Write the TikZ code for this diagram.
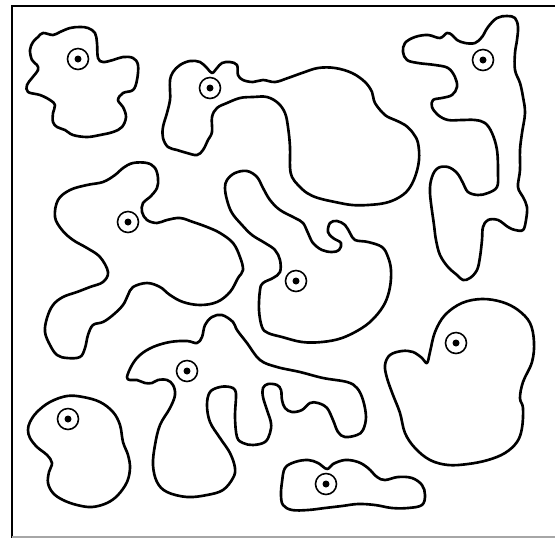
\documentclass[tikz,border=0pt]{standalone}
\usepackage{tikz}

\tikzset{
    blob/.style={line width=1.5pt, line join=round},
    eyering/.style={line width=0.9pt},
    frameline/.style={line width=1.3pt}
}

\begin{document}
\begin{tikzpicture}[x=0.02cm, y=-0.02cm]
    \useasboundingbox (0,0) rectangle (555,538);
    % frame
    \draw[frameline] (555,6) -- (12,6) -- (12,538);
    \draw[line width=0.6pt, black!35] (12,537) -- (555,537);
    % top left
    \draw[blob] plot[smooth cycle, tension=0.6] coordinates {
        (43,33) (53,35) (60,32) (70,28) (80,27) (88,28) (95,33) (97,43)
        (98,58) (103,62) (113,60) (123,57) (133,58) (138,65) (137,80)
        (133,90) (123,93) (118,100) (123,107) (126,117) (122,127)
        (113,132) (100,135) (87,137) (73,135) (65,130) (57,127) (53,122)
        (53,113) (55,105) (50,100) (40,95) (28,92) (27,85) (32,78)
        (38,70) (37,65) (32,60) (30,50) (33,42) (38,37)};
    % top middle
    \draw[blob] plot[smooth cycle, tension=0.6] coordinates {
        (170,80) (173,72) (180,65) (190,61) (200,62) (207,68) (212,73)
        (217,68) (222,63) (230,62) (237,65) (238,75) (243,80) (253,82)
        (263,80) (275,82) (288,78) (302,73) (318,68) (335,68) (352,73)
        (365,82) (372,92) (375,103) (385,115) (395,120) (405,125)
        (413,133) (418,143) (419,160) (415,177) (408,190) (398,198)
        (385,203) (368,205) (352,205) (335,202) (318,198) (307,193)
        (298,185) (292,177) (290,167) (290,147) (288,127) (285,113)
        (278,103) (267,97) (253,97) (240,98) (227,103) (217,108)
        (212,117) (212,132) (208,140) (203,150) (197,155) (187,153)
        (177,150) (168,147) (163,138) (163,127) (167,113) (170,100)
        (170,90)};
    % top right
    \draw[blob] plot[smooth cycle, tension=0.6] coordinates {
        (405,43) (415,37) (428,35) (440,38) (447,33) (452,35) (457,40)
        (465,43) (475,43) (482,37) (488,27) (497,18) (507,16) (515,18)
        (518,27) (517,40) (515,53) (515,70) (520,83) (523,97) (525,113)
        (522,133) (520,150) (520,170) (518,187) (523,197) (527,207)
        (526,220) (523,230) (515,230) (508,227) (498,220) (488,220)
        (483,227) (482,240) (480,257) (477,270) (470,278) (463,280)
        (457,275) (448,267) (440,255) (436,240) (434,225) (430,193)
        (432,177) (438,168) (448,167) (457,173) (463,183) (468,192)
        (478,195) (488,193) (497,187) (498,173) (497,150) (492,133)
        (485,123) (475,120) (462,120) (448,120) (438,115) (432,107)
        (433,100) (442,98) (452,95) (457,87) (455,77) (448,68) (435,65)
        (418,63) (407,60) (403,52)};
    % middle left
    \draw[blob] plot[smooth cycle, tension=0.6] coordinates {
        (55,217) (58,200) (70,190) (87,185) (103,182) (115,175) (123,168)
        (133,163) (147,163) (155,168) (158,178) (157,188) (150,197)
        (143,203) (142,212) (147,220) (157,223) (167,220) (180,218)
        (193,222) (207,227) (220,233) (233,243) (240,257) (243,270)
        (238,278) (230,292) (217,302) (200,305) (183,302) (170,295)
        (160,287) (147,283) (133,287) (128,295) (123,305) (113,315)
        (103,322) (93,325) (88,335) (85,348) (80,357) (67,358) (57,355)
        (50,345) (45,332) (47,318) (53,305) (63,297) (77,292) (90,287)
        (103,282) (108,272) (100,257) (87,248) (73,240) (62,230)};
    % centre
    \draw[blob] plot[smooth cycle, tension=0.6] coordinates {
        (227,180) (235,173) (247,171) (257,177) (263,188) (270,200)
        (280,210) (295,218) (303,223) (308,233) (313,243) (322,250)
        (332,252) (339,250) (341,243) (333,238) (328,232) (330,223)
        (337,221) (345,225) (350,233) (355,240) (368,242) (382,247)
        (388,257) (391,270) (390,287) (385,303) (375,317) (362,328)
        (342,338) (322,342) (302,342) (282,337) (268,333) (262,327)
        (259,310) (260,290) (263,283) (273,278) (280,272) (280,260)
        (275,250) (265,243) (252,235) (242,225) (232,213) (227,200)
        (225,188)};
    % lower middle
    \draw[blob] plot[smooth cycle, tension=0.6] coordinates {
        (132,365) (140,355) (153,347) (170,342) (187,341) (197,343)
        (202,337) (205,325) (212,317) (222,315) (233,322) (237,330)
        (247,343) (260,360) (277,367) (300,372) (323,378) (347,382)
        (357,388) (363,400) (366,417) (363,430) (357,435) (345,437)
        (338,432) (333,420) (327,408) (318,403) (310,403) (302,410)
        (292,412) (285,408) (282,400) (281,390) (277,385) (268,384)
        (263,388) (263,397) (267,410) (271,423) (270,433) (265,442)
        (253,445) (243,443) (237,437) (235,417) (236,397) (235,390)
        (230,387) (220,387) (210,392) (207,405) (210,422) (220,438)
        (230,453) (235,468) (233,478) (223,490) (207,495) (187,497)
        (167,492) (157,482) (153,465) (155,445) (160,425) (170,408)
        (175,395) (173,385) (167,380) (158,380) (152,383) (145,383)
        (137,380) (130,380) (127,377)};
    % bottom left
    \draw[blob] plot[smooth cycle, tension=0.6] coordinates {
        (30,422) (37,412) (50,402) (67,396) (83,397) (100,402) (113,412)
        (120,425) (123,442) (128,455) (130,468) (127,482) (118,495)
        (107,503) (92,507) (77,505) (63,500) (53,493) (48,483) (49,472)
        (52,463) (47,455) (37,447) (30,438) (28,430)};
    % bottom
    \draw[blob] plot[smooth cycle, tension=0.6] coordinates {
        (282,482) (285,468) (295,462) (308,460) (318,463) (327,469)
        (333,464) (345,460) (358,462) (368,468) (377,477) (385,480)
        (398,477) (412,478) (422,485) (425,495) (422,505) (408,508)
        (392,508) (375,505) (358,504) (342,506) (325,508) (308,510)
        (292,510) (283,505) (281,495)};
    % bottom right
    \draw[blob] plot[smooth cycle, tension=0.6] coordinates {
        (427,363) (430,352) (435,332) (445,315) (462,303) (482,299)
        (502,302) (518,310) (530,323) (534,342) (532,362) (523,382)
        (520,398) (523,408) (522,428) (517,442) (505,453) (488,460)
        (468,464) (448,465) (430,460) (415,448) (405,433) (400,413)
        (393,395) (387,378) (385,365) (390,355) (402,351) (413,352)
        (422,358)};
    % eyes
    \foreach \ex/\ey in {78/59, 210/88, 483/60, 128/222, 296/281,
                         187/371, 68/419, 326/484, 456/343} {
        \draw[eyering] (\ex,\ey) circle (10.5);
        \fill (\ex,\ey) circle (3.5);
    }
\end{tikzpicture}
\end{document}
